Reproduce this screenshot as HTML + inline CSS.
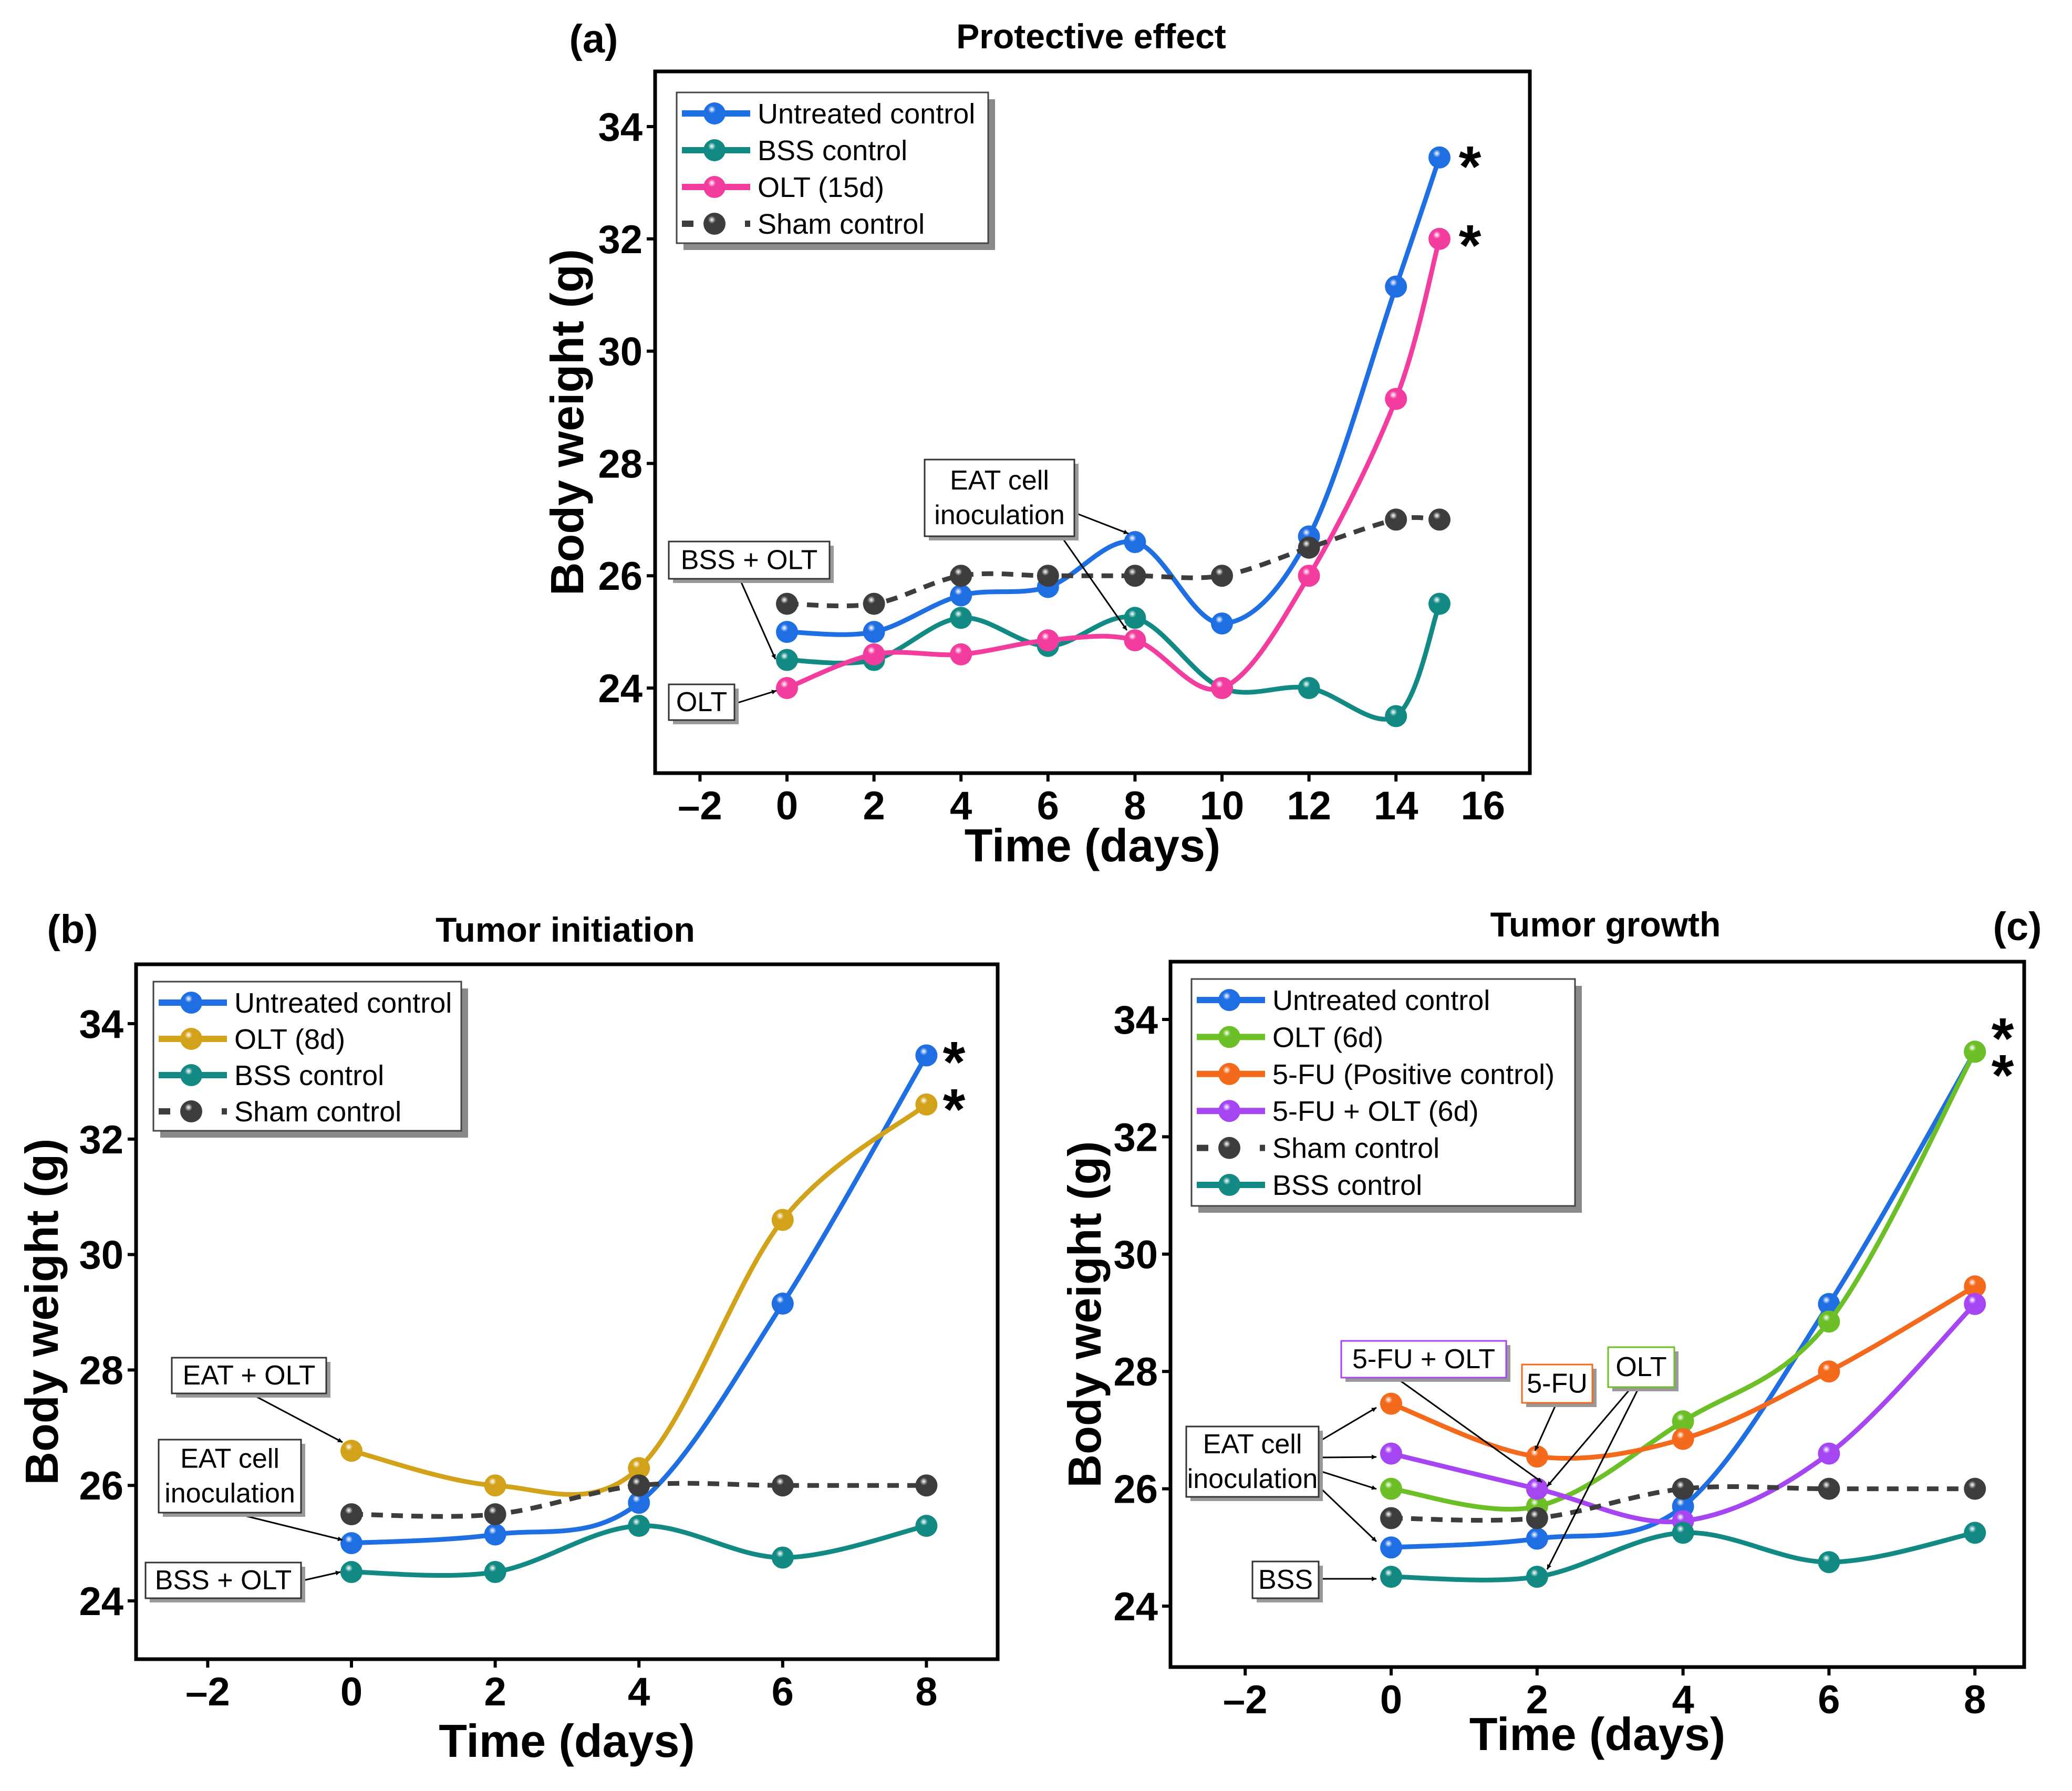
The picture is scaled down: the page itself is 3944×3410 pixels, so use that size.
<!DOCTYPE html>
<html><head><meta charset="utf-8"><style>
html,body{margin:0;padding:0;background:#fff;}
svg{display:block;}
text{font-family:"Liberation Sans Narrow","Liberation Sans",sans-serif;}
</style></head>
<body>
<svg id="fig" xmlns="http://www.w3.org/2000/svg" width="3944" height="3410" viewBox="0 0 3944 3410">
<defs>
<marker id="arr" viewBox="0 0 10 10" refX="10" refY="5" markerWidth="9" markerHeight="9" orient="auto-start-reverse" markerUnits="userSpaceOnUse"><path d="M0,0 L10,5 L0,10 z" fill="#000"/></marker>
</defs>
</svg>
<script>
// ---- Panel (a) data ----
const daysA = [0,2,4,6,8,10,12,14,15];
const untreatedA = [25,25,25.65,25.8,26.6,25.15,26.7,31.15,33.45];
const bssA = [24.5,24.5,25.25,24.75,25.25,24.0,24.0,23.5,25.5];
const olt15A = [24,24.6,24.6,24.85,24.85,24,26,29.15,32];
const shamA = [25.5,25.5,26,26,26,26,26.5,27,27];
const xTicksA = [-2,0,2,4,6,8,10,12,14,16];
// ---- Panel (b) data ----
const daysB = [0,2,4,6,8];
const untreatedB = [25,25.15,25.7,29.15,33.45];
const olt8B = [26.6,26,26.3,30.6,32.6];
const bssB = [24.5,24.5,25.3,24.75,25.3];
const shamB = [25.5,25.5,26,26,26];
const xTicksB = [-2,0,2,4,6,8];
// ---- Panel (c) data ----
const daysC = [0,2,4,6,8];
const untreatedC = [25,25.15,25.7,29.15,33.45];
const olt6C = [26,25.7,27.15,28.85,33.45];
const fuC = [27.45,26.55,26.85,28,29.45];
const fuOltC = [26.6,26,25.45,26.6,29.15];
const shamC = [25.5,25.5,26,26,26];
const bssC = [24.5,24.5,25.25,24.75,25.25];
const xTicksC = [-2,0,2,4,6,8];
const yTicks = [24,26,28,30,32,34];

const NS='http://www.w3.org/2000/svg';
const svg=document.getElementById('fig');
const defs=svg.querySelector('defs');
function mk(tag,attrs,parent){const e=document.createElementNS(NS,tag);for(const k in attrs)e.setAttribute(k,attrs[k]);(parent||svg).appendChild(e);return e;}
const COLORS={blue:'#1f6fe3',teal:'#128a83',pink:'#f23d9e',gray:'#3d3d3d',gold:'#d3a21b',green:'#6cbf26',orange:'#f36a1c',purple:'#a546f2'};
for(const k in COLORS){
  const g=mk('radialGradient',{id:'g'+k,cx:'0.38',cy:'0.32',r:'0.7'},defs);
  mk('stop',{offset:'0','stop-color':'#ffffff'},g);
  mk('stop',{offset:'0.25','stop-color':COLORS[k]},g);
  mk('stop',{offset:'1','stop-color':COLORS[k]},g);
}
function smoothPath(pts){
  let d='M'+pts[0][0]+','+pts[0][1];
  for(let i=0;i<pts.length-1;i++){
    const p0=pts[i-1]||pts[i],p1=pts[i],p2=pts[i+1],p3=pts[i+2]||p2;
    const c1=[p1[0]+(p2[0]-p0[0])/6,p1[1]+(p2[1]-p0[1])/6];
    const c2=[p2[0]-(p3[0]-p1[0])/6,p2[1]-(p3[1]-p1[1])/6];
    d+=' C'+c1+' '+c2+' '+p2;
  }
  return d;
}
function marker(x,y,col,parent){
  mk('circle',{cx:x,cy:y,r:21,fill:'url(#g'+col+')'},parent);
}
function panel(P){
  const g=mk('g',{});
  
  
  const sx=v=>P.x0+v*P.px, sy=v=>P.y24-(v-24)*P.py;
  // frame
  const fr=mk('rect',{x:P.f[0],y:P.f[1],width:P.f[2]-P.f[0],height:P.f[3]-P.f[1],fill:'none',stroke:'#000','stroke-width':7},g);
  
  
  P.xt.forEach(t=>{
    mk('line',{x1:sx(t),x2:sx(t),y1:P.f[3],y2:P.f[3]+16,stroke:'#000','stroke-width':6},g);
    const tx=mk('text',{x:sx(t),y:P.f[3]+88,'text-anchor':'middle','font-size':76,'font-weight':'bold'},g);
    tx.textContent=t<0?'\u2013'+(-t):t;
    
    
  });
  yTicks.forEach(t=>{
    mk('line',{x1:P.f[0]-16,x2:P.f[0],y1:sy(t),y2:sy(t),stroke:'#000','stroke-width':6},g);
    const tx=mk('text',{x:P.f[0]-24,y:sy(t)+27,'text-anchor':'end','font-size':76,'font-weight':'bold'},g);
    tx.textContent=t;
    
    
  });
  const xl=mk('text',{x:(P.f[0]+P.f[2])/2,y:P.xly,'text-anchor':'middle','font-size':88,'font-weight':'bold'},g);
  xl.textContent='Time (days)';
  
  
  const yl=mk('text',{x:0,y:0,transform:'translate('+P.ylx+','+(P.f[1]+P.f[3])/2+') rotate(-90)','text-anchor':'middle','font-size':88,'font-weight':'bold'},g);
  yl.textContent='Body weight (g)';
  
  
  const tt=mk('text',{x:P.title[1],y:P.title[2],'text-anchor':'middle','font-size':66,'font-weight':'bold'},g);
  tt.textContent=P.title[0];
  
  
  const lb=mk('text',{x:P.lab[1],y:P.lab[2],'text-anchor':'middle','font-size':76,'font-weight':'bold'},g);
  lb.textContent=P.lab[0];
  
  
  // series
  P.series.forEach(s=>{
    const sg=mk('g',{},g);
    
    
    const pts=P.days.map((d,i)=>[sx(d),sy(s.v[i])]);
    mk('path',{d:smoothPath(pts),fill:'none',stroke:COLORS[s.c],'stroke-width':9,'stroke-dasharray':s.dash?'22 16':'none'},sg);
    pts.forEach(p=>marker(p[0],p[1],s.c,sg));
  });
  // legend
  const L=P.leg;
  const lg=mk('g',{},g);
  
  
  mk('rect',{x:L.x+13,y:L.y+13,width:L.w,height:L.h,fill:'#8a8a8a'},lg);
  mk('rect',{x:L.x,y:L.y,width:L.w,height:L.h,fill:'#fff',stroke:'#444','stroke-width':3},lg);
  P.legOrder.forEach((k,i)=>{
    const s=P.series.find(q=>q.key===k);
    const y=L.y+40+i*L.step;
    const e=mk('g',{},lg);
    
    
    mk('line',{x1:L.x+10,x2:L.x+140,y1:y,y2:y,stroke:COLORS[s.c],'stroke-width':12,'stroke-dasharray':s.dash?'22 38':'none'},e);
    marker(L.x+72,y,s.c,e);
    const t=mk('text',{x:L.x+154,y:y+19,'font-size':54},e);
    t.textContent=s.label;
  });
  // stars
  P.stars.forEach(p=>{
    const t=mk('text',{x:p[0],y:p[1],'text-anchor':'middle','font-size':110,'font-weight':'bold',fill:'#000'},g);
    t.textContent='*';
    
    
  });
  // annotations
  P.notes.forEach(n=>{
    const ag=mk('g',{},g);
    
    
    n.arrows.forEach(a=>mk('line',{x1:a[0],y1:a[1],x2:a[2],y2:a[3],stroke:'#000','stroke-width':3,'marker-end':'url(#arr)'},ag));
    mk('rect',{x:n.b[0]+8,y:n.b[1]+8,width:n.b[2]-n.b[0],height:n.b[3]-n.b[1],fill:'#999'},ag);
    mk('rect',{x:n.b[0],y:n.b[1],width:n.b[2]-n.b[0],height:n.b[3]-n.b[1],fill:'#fff',stroke:n.col||'#333','stroke-width':3},ag);
    const lines=n.t.split('\n');
    lines.forEach((ln,i)=>{
      const t=mk('text',{x:(n.b[0]+n.b[2])/2,y:(n.b[1]+n.b[3])/2+17+(i-(lines.length-1)/2)*66,'text-anchor':'middle','font-size':52},ag);
      t.textContent=ln;
    });
  });
}
panel({name:'panel-a-protective-effect',x0:1498,px:82.8,y24:1310,py:106.9,f:[1247,136,2912,1472],xt:xTicksA,days:daysA,
  xly:1640,ylx:1110,title:['Protective effect',2077,92],lab:['(a)',1130,100],
  series:[{key:'untreated',label:'Untreated control',v:untreatedA,c:'blue'},{key:'bss',label:'BSS control',v:bssA,c:'teal'},{key:'olt15',label:'OLT (15d)',v:olt15A,c:'pink'},{key:'sham',label:'Sham control',v:shamA,c:'gray',dash:1}],
  legOrder:['untreated','bss','olt15','sham'],leg:{x:1288,y:176,w:593,h:287,step:70},
  stars:[[2798,355],[2798,505]],
  notes:[{t:'BSS + OLT',b:[1273,1031,1579,1102],arrows:[[1408,1102,1476,1255]]},
         {t:'OLT',b:[1273,1303,1398,1371],arrows:[[1398,1340,1478,1315]]},
         {t:'EAT cell\ninoculation',b:[1760,875,2045,1021],arrows:[[2045,976,2148,1016],[2020,1021,2145,1200]]}]
});
panel({name:'panel-b-tumor-initiation',x0:669,px:136.8,y24:3048,py:109.9,f:[259,1836,1899,3159],xt:xTicksB,days:daysB,
  xly:3345,ylx:110,title:['Tumor initiation',1076,1793],lab:['(b)',138,1795],
  series:[{key:'untreated',label:'Untreated control',v:untreatedB,c:'blue'},{key:'olt8',label:'OLT (8d)',v:olt8B,c:'gold'},{key:'bss',label:'BSS control',v:bssB,c:'teal'},{key:'sham',label:'Sham control',v:shamB,c:'gray',dash:1}],
  legOrder:['untreated','olt8','bss','sham'],leg:{x:292,y:1869,w:586,h:284,step:69},
  stars:[[1816,2060],[1816,2150]],
  notes:[{t:'EAT + OLT',b:[327,2585,621,2653],arrows:[[480,2655,652,2746]]},
         {t:'EAT cell\ninoculation',b:[302,2741,573,2880],arrows:[[450,2882,652,2932]]},
         {t:'BSS + OLT',b:[277,2975,573,3043],arrows:[[573,3010,648,2993]]}]
});
panel({name:'panel-c-tumor-growth',x0:2648,px:138.9,y24:3058,py:111.7,f:[2228,1831,3853,3174],xt:xTicksC,days:daysC,
  xly:3332,ylx:2095,title:['Tumor growth',3056,1783],lab:['(c)',3840,1790],
  series:[{key:'untreated',label:'Untreated control',v:untreatedC,c:'blue'},{key:'olt6',label:'OLT (6d)',v:olt6C,c:'green'},{key:'fu',label:'5-FU (Positive control)',v:fuC,c:'orange'},{key:'fuolt',label:'5-FU + OLT (6d)',v:fuOltC,c:'purple'},{key:'sham',label:'Sham control',v:shamC,c:'gray',dash:1},{key:'bss',label:'BSS control',v:bssC,c:'teal'}],
  legOrder:['untreated','olt6','fu','fuolt','sham','bss'],leg:{x:2268,y:1864,w:730,h:432,step:70.4},
  stars:[[3812,2015],[3812,2085]],
  notes:[{t:'EAT cell\ninoculation',b:[2258,2716,2510,2850],arrows:[[2510,2745,2620,2680],[2510,2775,2620,2774],[2510,2800,2620,2835],[2510,2830,2620,2935]]},
         {t:'BSS',b:[2384,2973,2510,3043],arrows:[[2510,3006,2620,3006]]},
         {t:'5-FU + OLT',b:[2553,2553,2867,2623],col:'#a546f2',arrows:[[2660,2625,2935,2822]]},
         {t:'5-FU',b:[2897,2598,3031,2671],col:'#f36a1c',arrows:[[2963,2671,2922,2762]]},
         {t:'OLT',b:[3061,2565,3187,2641],col:'#6cbf26',arrows:[[3106,2641,2945,2830],[3120,2641,2945,2988]]}]
});
</script>
</body></html>
